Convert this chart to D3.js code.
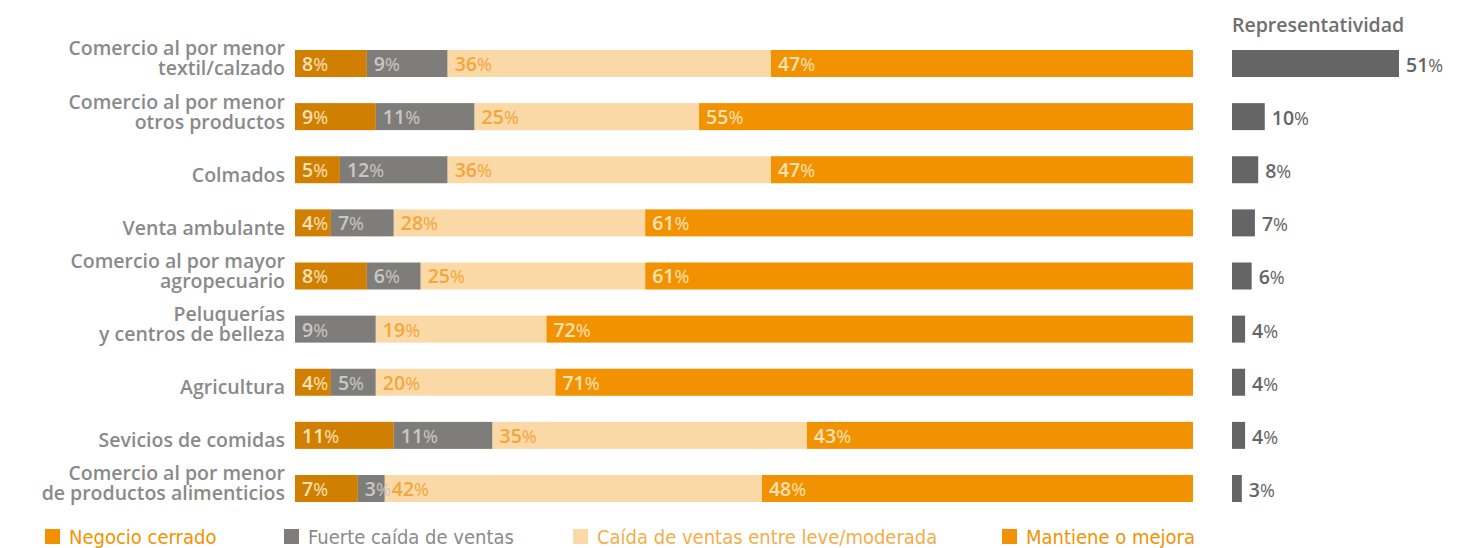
<!DOCTYPE html>
<html>
<head>
<meta charset="utf-8">
<script src="https://cdn.jsdelivr.net/npm/d3@7"></script>
<style>
  html, body { margin: 0; padding: 0; background: #fff; }
  svg { display: block; }
</style>
</head>
<body>
<svg id="chart" width="1466" height="548"></svg>
<script>
// Sectors, one row each; two-line names are split with "\n"
const categories = [
  "Comercio al por menor\ntextil/calzado",
  "Comercio al por menor\notros productos",
  "Colmados",
  "Venta ambulante",
  "Comercio al por mayor\nagropecuario",
  "Peluquerías\ny centros de belleza",
  "Agricultura",
  "Sevicios de comidas",
  "Comercio al por menor\nde productos alimenticios"
];

const seriesNames = [
  "Negocio cerrado",
  "Fuerte caída de ventas",
  "Caída de ventas entre leve/moderada",
  "Mantiene o mejora"
];

// Share of businesses (%) per sector for each series
const negocioCerrado = [8, 9, 5, 4, 8, 0, 4, 11, 7];
const fuerteCaida    = [9, 11, 12, 7, 6, 9, 5, 11, 3];
const caidaLeve      = [36, 25, 36, 28, 25, 19, 20, 35, 42];
const mantiene       = [47, 55, 47, 61, 61, 72, 71, 43, 48];

// Weight of each sector in the sample (%)
const representatividad = [51, 10, 8, 7, 6, 4, 4, 4, 3];

const barFill    = ["#d17f00", "#7f7d7a", "#fad9a6", "#f39200"];
const legendFill = ["#f39200", "#7f7d7a", "#fad9a6", "#f39200"];
const labelFill  = ["#fbe2b8", "#c9c8c6", "#f4a63c", "#fbe2b8"];
const legendText = ["#f39200", "#8a8a8a", "#f5ad4a", "#f39200"];

const svg = d3.select("#chart");
const labelFont = "'Open Sans', sans-serif";

const values = [negocioCerrado, fuerteCaida, caidaLeve, mantiene];
const rows = categories.map((c, i) => {
  const r = { cat: c };
  seriesNames.forEach((s, k) => r[s] = values[k][i]);
  return r;
});
const stacked = d3.stack().keys(seriesNames)(rows);

const n = categories.length;
const step = 53.125, pad = 0.4918;
const y = d3.scaleBand()
  .domain(categories)
  .range([50, 50 + step * (n - pad)])
  .paddingInner(pad)
  .paddingOuter(0);

const x = d3.scaleLinear().domain([0, 100]).range([295, 1193]);
const xr = d3.scaleLinear().domain([0, 51]).range([1232, 1399]);

// Stacked bars
const layer = svg.append("g").selectAll("g")
  .data(stacked).join("g")
  .attr("fill", (d, k) => barFill[k]);

layer.selectAll("rect")
  .data(d => d.map(p => ({ p, key: d.key })))
  .join("rect")
  .attr("x", d => x(d.p[0]))
  .attr("y", d => y(d.p.data.cat))
  .attr("width", d => x(d.p[1]) - x(d.p[0]))
  .attr("height", y.bandwidth());

// Number followed by a slightly smaller percent sign
function pctText(sel, small) {
  sel.append("tspan").text(d => d.v);
  sel.append("tspan").attr("font-size", small).attr("font-weight", 500).text("%");
}

// Value labels inside each segment
stacked.forEach((s, k) => {
  const g = svg.append("g")
    .attr("fill", labelFill[k])
    .attr("font-family", labelFont)
    .attr("font-weight", 600)
    .attr("font-size", 19.5);
  const t = g.selectAll("text")
    .data(s.filter(p => p[1] - p[0] > 0).map(p => ({ p, v: p[1] - p[0] })))
    .join("text")
    .attr("x", d => x(d.p[0]) + 7)
    .attr("y", d => y(d.p.data.cat) + y.bandwidth() / 2 + 7.5);
  pctText(t, 18);
});

// Sector names
const cat = svg.append("g")
  .attr("fill", "#8a8a8a")
  .attr("font-family", labelFont)
  .attr("font-weight", 600)
  .attr("font-size", 19.5)
  .attr("text-anchor", "end")
  .selectAll("text").data(categories).join("text")
  .attr("x", 285)
  .attr("y", d => y(d) + y.bandwidth() / 2 + 12);
cat.each(function(d) {
  const lines = d.split("\n");
  const t = d3.select(this);
  lines.forEach((ln, i) => {
    t.append("tspan")
      .attr("x", 285)
      .attr("dy", i === 0 ? (lines.length === 1 ? 0 : -20) : 20)
      .text(ln);
  });
});

// Representatividad panel
svg.append("text")
  .attr("x", 1232).attr("y", 32)
  .attr("fill", "#6f6f6f")
  .attr("font-family", labelFont)
  .attr("font-weight", 600)
  .attr("font-size", 19.5)
  .text("Representatividad");

svg.append("g").attr("fill", "#656565")
  .selectAll("rect").data(representatividad).join("rect")
  .attr("x", xr(0))
  .attr("y", (d, i) => y(categories[i]))
  .attr("width", d => xr(d) - xr(0))
  .attr("height", y.bandwidth());

const rt = svg.append("g")
  .attr("fill", "#656565")
  .attr("font-family", labelFont)
  .attr("font-weight", 600)
  .attr("font-size", 19.5)
  .selectAll("text").data(representatividad.map(v => ({ v }))).join("text")
  .attr("x", d => xr(d.v) + 7)
  .attr("y", (d, i) => y(categories[i]) + y.bandwidth() / 2 + 8.5);
pctText(rt, 18);

// Legend
const legendX = [45, 284, 573, 1002];
const lg = svg.append("g")
  .selectAll("g").data(seriesNames).join("g")
  .attr("transform", (d, i) => `translate(${legendX[i]},529)`);
lg.append("rect")
  .attr("width", 15).attr("height", 15)
  .attr("fill", (d, i) => legendFill[i]);
lg.append("text")
  .attr("x", 24).attr("y", 15)
  .attr("fill", (d, i) => legendText[i])
  .attr("font-family", "'Liberation Sans Narrow', 'DejaVu Sans Condensed', sans-serif")
  .attr("font-size", 20)
  .text(d => d);
</script>
</body>
</html>
